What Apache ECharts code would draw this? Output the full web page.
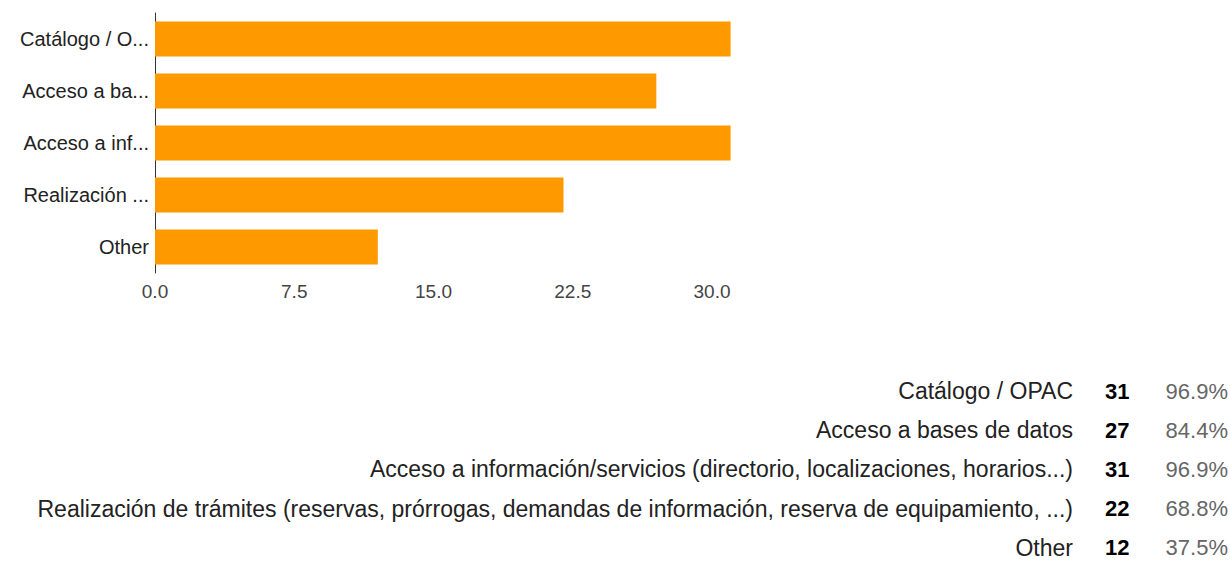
<!DOCTYPE html>
<html>
<head>
<meta charset="utf-8">
<script src="https://cdn.jsdelivr.net/npm/echarts@6/dist/echarts.min.js"></script>
<style>
    html, body { margin: 0; padding: 0; background: #fff; }
    #chart { width: 1230px; height: 562px; }
</style>
</head>
<body>
<div id="chart"></div>
<script>
// categorias y respuestas
var categories = [
    'Catálogo / OPAC',
    'Acceso a bases de datos',
    'Acceso a información/servicios (directorio, localizaciones, horarios...)',
    'Realización de trámites (reservas, prórrogas, demandas de información, reserva de equipamiento, ...)',
    'Other'
];
var counts = [31, 27, 31, 22, 12];
var percents = ['96.9%', '84.4%', '96.9%', '68.8%', '37.5%'];

var chart = echarts.init(document.getElementById('chart'), null, {renderer: 'svg'});

// tabla de resumen debajo del grafico
var table = [];
var rowTop = 391, rowStep = 39.2;
for (var i = 0; i < categories.length; i++) {
    var y = rowTop + i * rowStep;
    table.push({
        type: 'text', x: 1073, y: y,
        style: {text: categories[i], fill: '#222', font: '23px "Liberation Sans", Arial', align: 'right', verticalAlign: 'middle'}
    });
    table.push({
        type: 'text', x: 1105, y: y,
        style: {text: String(counts[i]), fill: '#000', font: 'bold 22px "Liberation Sans", Arial', align: 'left', verticalAlign: 'middle'}
    });
    table.push({
        type: 'text', x: 1228, y: y,
        style: {text: percents[i], fill: '#666', font: '22px "Liberation Sans", Arial', align: 'right', verticalAlign: 'middle'}
    });
}

var option = {
    animation: false,
    grid: {left: 155, top: 13, width: 575.6, height: 260},
    xAxis: {
        type: 'value',
        min: 0,
        max: 31,
        interval: 7.5,
        axisLine: {show: false},
        axisTick: {show: false},
        splitLine: {show: false},
        axisLabel: {
            showMaxLabel: false,
            color: '#444',
            fontFamily: 'Liberation Sans',
            fontSize: 19,
            margin: 9,
            formatter: function (v) { return v.toFixed(1); }
        }
    },
    yAxis: {
        type: 'category',
        inverse: true,
        data: categories,
        axisLine: {show: true, lineStyle: {color: '#333', width: 1}},
        axisTick: {show: false},
        axisLabel: {
            color: '#222',
            fontFamily: 'Liberation Sans',
            fontSize: 20,
            margin: 6,
            width: 136,
            overflow: 'truncate',
            ellipsis: '...'
        }
    },
    series: [{
        type: 'bar',
        data: counts,
        barWidth: 35,
        itemStyle: {color: '#ff9900'}
    }],
    graphic: table
};
chart.setOption(option);
</script>
</body>
</html>
